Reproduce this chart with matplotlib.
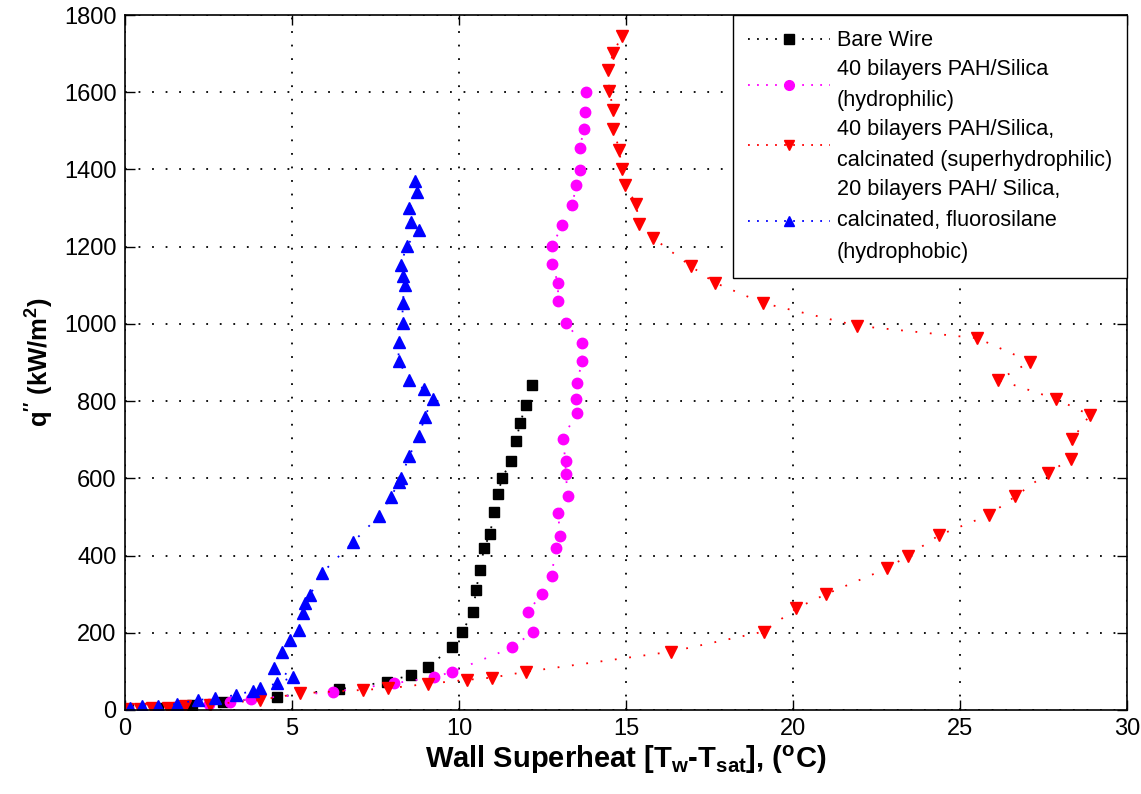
import numpy as np
import matplotlib
matplotlib.use('Agg')
import matplotlib.pyplot as plt

plt.rcParams['font.family'] = ['Liberation Sans', 'DejaVu Sans']
plt.rcParams['mathtext.fontset'] = 'custom'
plt.rcParams['mathtext.rm'] = 'Liberation Sans:bold'
plt.rcParams['mathtext.it'] = 'Liberation Sans:bold'
plt.rcParams['mathtext.bf'] = 'Liberation Sans:bold'

# Data (wall superheat in C, heat flux in kW/m^2)
bare_x = [0.1, 1.0, 2.0, 2.93, 4.55, 6.41, 7.84, 8.56, 9.07, 9.79, 10.09, 10.42,
          10.51, 10.63, 10.75, 10.93, 11.05, 11.17, 11.29, 11.56, 11.71, 11.83,
          12.01, 12.19]
bare_y = [2, 6, 12, 21, 34, 54, 73, 91, 111, 163, 202, 254, 311, 363, 420, 456,
          513, 560, 601, 645, 697, 744, 790, 842]

philic_x = [0.1, 1.5, 2.5, 3.14, 3.76, 6.24, 8.05, 9.25, 9.8, 11.6, 12.22, 12.07,
            12.47, 12.77, 12.9, 13.02, 12.97, 13.27, 13.19, 13.19, 13.1, 13.52,
            13.49, 13.52, 13.69, 13.67, 13.21, 12.97, 12.96, 12.78, 12.79, 13.09,
            13.39, 13.51, 13.61, 13.61, 13.75, 13.76, 13.81]
philic_y = [2, 8, 15, 22, 28, 47, 69, 85, 99, 162, 203, 255, 300, 348, 419, 451,
            511, 553, 611, 646, 702, 769, 805, 846, 903, 951, 1002, 1058, 1107,
            1155, 1201, 1257, 1308, 1359, 1399, 1455, 1506, 1549, 1600]

super_x = [0.05, 0.45, 0.8, 1.3, 1.8, 2.54, 4.04, 5.24, 7.13, 7.88, 9.08, 10.23,
           11.0, 12.0, 16.35, 19.12, 20.09, 20.99, 22.82, 23.43, 24.38, 25.87,
           26.65, 27.64, 28.31, 28.36, 28.89, 27.89, 26.15, 27.11, 25.52, 21.93,
           19.1, 17.65, 16.95, 15.82, 15.40, 15.3, 14.97, 14.87, 14.8, 14.62,
           14.62, 14.5, 14.45, 14.62, 14.87]
super_y = [3, 2, 5, 6, 10, 14, 26, 43, 52, 56, 68, 78, 84, 99, 151, 203, 263, 300,
           367, 399, 453, 505, 553, 615, 649, 701, 764, 805, 855, 902, 963, 995,
           1054, 1107, 1149, 1222, 1258, 1310, 1361, 1401, 1451, 1504, 1554, 1604,
           1658, 1701, 1746]

phobic_x = [0.15, 0.5, 1.0, 1.55, 2.19, 2.69, 3.32, 3.84, 4.04, 4.54, 5.02, 4.46,
            4.69, 4.94, 5.21, 5.34, 5.39, 5.54, 5.89, 6.84, 7.61, 7.96, 8.2, 8.26,
            8.51, 8.8, 8.98, 9.21, 8.96, 8.5, 8.19, 8.19, 8.31, 8.31, 8.38, 8.31,
            8.26, 8.43, 8.81, 8.55, 8.51, 8.73, 8.68]
phobic_y = [4, 10, 10, 16, 26, 30, 39, 50, 56, 69, 85, 108, 151, 181, 207, 250,
            276, 298, 354, 436, 503, 552, 590, 601, 658, 710, 760, 805, 831, 855,
            904, 954, 1003, 1055, 1101, 1123, 1153, 1202, 1243, 1265, 1300, 1341,
            1371]

labels = ['Bare Wire',
          '40 bilayers PAH/Silica\n(hydrophilic)',
          '40 bilayers PAH/Silica,\ncalcinated (superhydrophilic)',
          '20 bilayers PAH/ Silica,\ncalcinated, fluorosilane\n(hydrophobic)']

fig = plt.figure(figsize=(11.41, 7.94), dpi=100)
ax = fig.add_axes([0.1096, 0.1058, 0.8781, 0.8753])

dots = (0, (1, 7))
ax.plot(bare_x, bare_y, color='black', ls=dots, lw=1.3, marker='s', ms=7,
        label=labels[0])
ax.plot(philic_x, philic_y, color='#ff00ff', ls=dots, lw=1.3, marker='o', ms=7.5,
        label=labels[1])
ax.plot(super_x, super_y, color='red', ls=dots, lw=1.3, marker='v', ms=8.5,
        label=labels[2])
ax.plot(phobic_x, phobic_y, color='blue', ls=dots, lw=1.3, marker='^', ms=8.5,
        label=labels[3])

ax.set_xlim(0, 30)
ax.set_ylim(0, 1800)
ax.set_xticks(np.arange(0, 31, 5))
ax.set_yticks(np.arange(0, 1801, 200))
ax.grid(True, color='black', linestyle=(0, (1, 6.5)), lw=1.3)
ax.tick_params(direction='in', length=7, width=1, top=True, right=True,
               labelsize=17, pad=6)
for s in ax.spines.values():
    s.set_linewidth(1.2)

ax.set_xlabel(r'Wall Superheat [T$_{w}$-T$_{sat}$], ($^{o}$C)', fontsize=21,
              fontweight='bold', labelpad=2)
ax.set_ylabel(r'q$^{\prime\prime}$ (kW/m$^{2}$)', fontsize=18.5, fontweight='bold',
              labelpad=6)

leg = ax.legend(loc='upper right', fontsize=15.6, handlelength=3.8,
                borderaxespad=0, fancybox=False, framealpha=1, edgecolor='black',
                labelspacing=0.35, handletextpad=0.3, borderpad=0.7,
                numpoints=1)
leg.get_frame().set_linewidth(1.0)
for t in leg.get_texts():
    t.set_linespacing(1.65)
for h in leg.legend_handles:
    h.set_markersize(7)
    h.set_linestyle((0, (1, 4)))

fig.savefig('out.png', dpi=100)
